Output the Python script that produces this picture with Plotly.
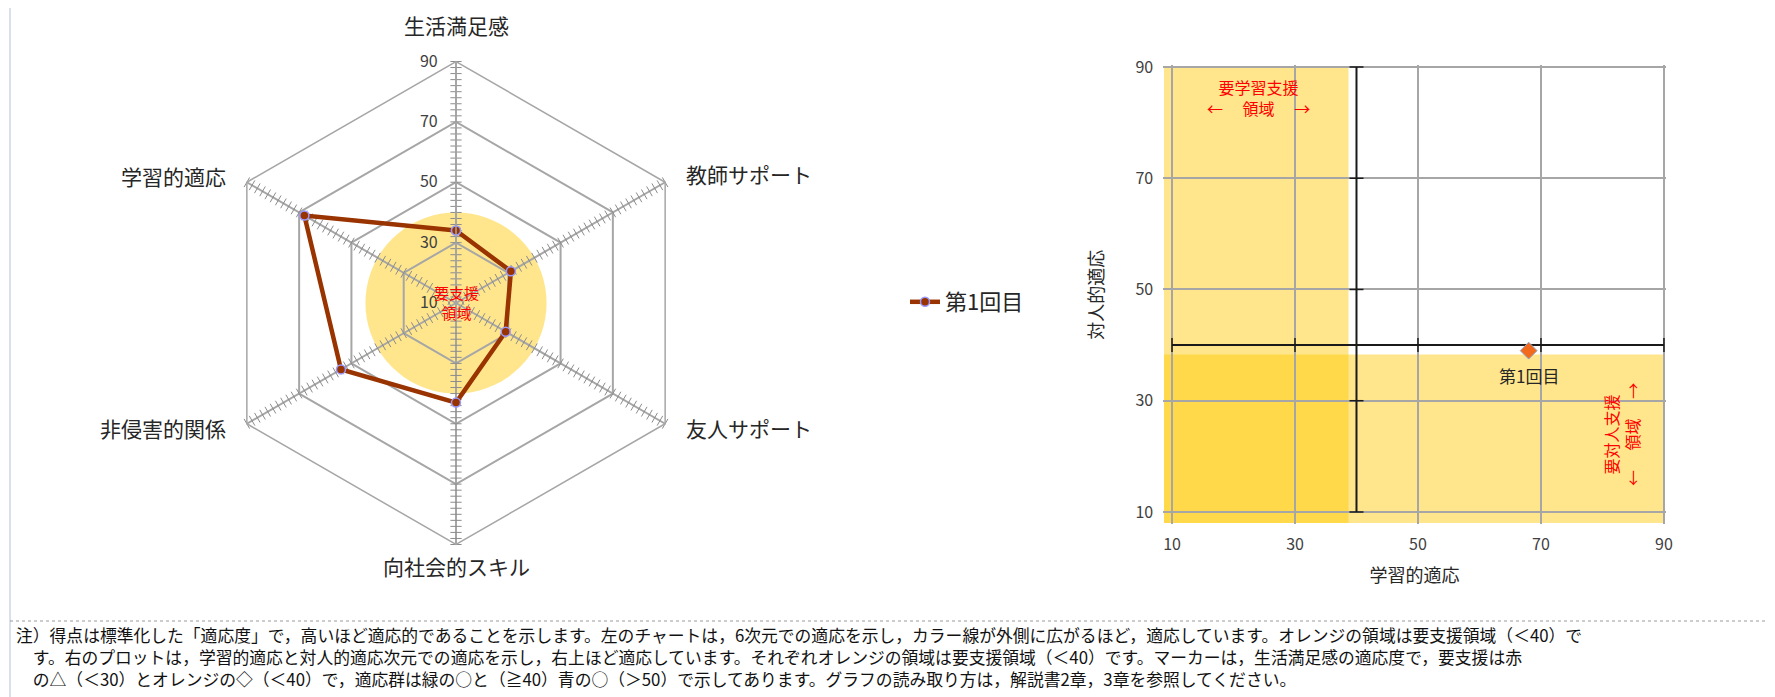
import plotly.graph_objects as go

# radar (6 dimensions), first session
radar_categories = ["生活満足感", "教師サポート", "友人サポート", "向社会的スキル", "非侵害的関係", "学習的適応"]
radar_values = [34, 31, 29, 43, 54, 68]
session_name = "第1回目"

# scatter: learning adaptation vs interpersonal adaptation
learning_x = [68]
interpersonal_y = [39]

support_cut = 40
grid_vals = [10, 30, 50, 70, 90]

note_lines = [
    "注）得点は標準化した「適応度」で，高いほど適応的であることを示します。左のチャートは，6次元での適応を示し，カラー線が外側に広がるほど，適応しています。オレンジの領域は要支援領域（＜40）で",
    "　す。右のプロットは，学習的適応と対人的適応次元での適応を示し，右上ほど適応しています。それぞれオレンジの領域は要支援領域（＜40）です。マーカーは，生活満足感の適応度で，要支援は赤",
    "　の△（＜30）とオレンジの◇（＜40）で，適応群は緑の○と（≧40）青の○（＞50）で示してあります。グラフの読み取り方は，解説書2章，3章を参照してください。",
]

FONT = "Noto Sans CJK JP"
W, H = 1775, 697
OFF = 8  # page body margin
GRID = "#A6A6A6"
LIGHT_Y = "#FFE68C"
DARK_Y = "#FFD94A"


def px(x):
    return (x - OFF) / W


def py(y):
    return 1 - (y - OFF) / H


fig = go.Figure()

# yellow "needs support" circle, drawn in an underlying polar
circle_theta = list(range(0, 361, 5))
fig.add_trace(go.Scatterpolar(r=[support_cut] * len(circle_theta), theta=circle_theta,
                              mode="lines", fill="toself", fillcolor=LIGHT_Y,
                              line=dict(width=0, color=LIGHT_Y), subplot="polar",
                              showlegend=False, hoverinfo="skip"))

# minor ticks on each spoke
tick_r = list(range(12, 91, 2))
for i, cat in enumerate(radar_categories):
    fig.add_trace(go.Scatterpolar(r=tick_r, theta=[cat] * len(tick_r), mode="markers",
                                  marker=dict(symbol="line-ew", size=8, angle=i * 60,
                                              line=dict(color="#8C8C8C", width=1)),
                                  subplot="polar2", showlegend=False, hoverinfo="skip"))

fig.add_trace(go.Scatterpolar(r=radar_values + radar_values[:1],
                              theta=radar_categories + radar_categories[:1],
                              mode="lines+markers", name=session_name, subplot="polar2",
                              line=dict(color="#993300", width=4.5),
                              marker=dict(size=9, color="#993300", line=dict(color="#9999FF", width=1.5))))

# scatter plot axes crossing at 40
fig.add_trace(go.Scatter(x=grid_vals, y=[support_cut] * len(grid_vals), mode="lines+markers",
                         line=dict(color="#1A1A1A", width=2),
                         marker=dict(symbol="line-ns", size=10, line=dict(color="#1A1A1A", width=1.5)),
                         showlegend=False, hoverinfo="skip"))
fig.add_trace(go.Scatter(x=[support_cut] * len(grid_vals), y=grid_vals, mode="lines+markers",
                         line=dict(color="#1A1A1A", width=2),
                         marker=dict(symbol="line-ew", size=10, line=dict(color="#1A1A1A", width=1.5)),
                         showlegend=False, hoverinfo="skip"))
fig.add_trace(go.Scatter(x=learning_x, y=interpersonal_y, mode="markers", name=session_name,
                         marker=dict(symbol="diamond", size=13, color="#F26B1D",
                                     line=dict(color="#8FA9D0", width=1)),
                         showlegend=False))

polar_dom = dict(x=[px(456 - 241.5), px(456 + 241.5)], y=[py(303 + 241.5), py(303 - 241.5)])
fig.update_layout(
    width=W, height=H,
    margin=dict(l=0, r=0, t=0, b=0),
    paper_bgcolor="white", plot_bgcolor="white",
    font=dict(family=FONT, color="#262626"),
    polar=dict(domain=polar_dom, bgcolor="white",
               radialaxis=dict(range=[10, 90], visible=False),
               angularaxis=dict(visible=False, rotation=90, direction="clockwise")),
    polar2=dict(domain=polar_dom, bgcolor="rgba(0,0,0,0)", gridshape="linear",
                radialaxis=dict(range=[10, 90], tickvals=grid_vals, angle=90, tickangle=90,
                                side="counterclockwise", showline=True, linecolor=GRID,
                                linewidth=1.5, gridcolor=GRID, gridwidth=1.5,
                                ticks="outside", ticklen=12, tickcolor="rgba(0,0,0,0)",
                                tickfont=dict(size=16, color="#404040")),
                angularaxis=dict(rotation=90, direction="clockwise", showline=True,
                                 linecolor=GRID, linewidth=1.5, gridcolor=GRID, gridwidth=1.5,
                                 ticks="", showticklabels=False)),
    xaxis=dict(domain=[px(1163.4), px(1665.8)], range=[8.6, 90.3], tickvals=grid_vals,
               showgrid=True, gridcolor=GRID, gridwidth=1.5, zeroline=False,
               ticks="outside", ticklen=6, tickcolor="rgba(0,0,0,0)",
               tickfont=dict(size=16, color="#404040"), automargin=False,
               title=dict(text="学習的適応", font=dict(size=18), standoff=14)),
    yaxis=dict(domain=[py(524.2), py(65.3)], range=[7.8, 90.3], tickvals=grid_vals,
               showgrid=True, gridcolor=GRID, gridwidth=1.5, zeroline=False,
               ticks="outside", ticklen=6, tickcolor="rgba(0,0,0,0)",
               tickfont=dict(size=16, color="#404040"), automargin=False,
               title=dict(text="対人的適応", font=dict(size=18), standoff=27)),
    legend=dict(x=px(905), y=py(302), xanchor="left", yanchor="middle",
                font=dict(size=22, color="#262626"), bgcolor="rgba(0,0,0,0)"),
)

# radar category labels placed around the hexagon
label_pos = [(456, 25, "center"), (684, 174, "left"), (684, 428, "left"),
             (456, 566, "center"), (228, 428, "right"), (228, 176, "right")]
for cat, (lx, ly, anchor) in zip(radar_categories, label_pos):
    fig.add_annotation(x=px(lx), y=py(ly), xref="paper", yref="paper", showarrow=False,
                       xanchor=anchor, yanchor="middle", text=cat,
                       font=dict(size=21, color="#262626"))

# support regions in the scatter
fig.add_shape(type="rect", xref="x", yref="y", x0=8.7, x1=38.7, y0=8, y1=90,
              fillcolor=LIGHT_Y, line_width=0, layer="below")
fig.add_shape(type="rect", xref="x", yref="y", x0=8.7, x1=90, y0=8, y1=38.3,
              fillcolor=LIGHT_Y, line_width=0, layer="below")
fig.add_shape(type="rect", xref="x", yref="y", x0=8.7, x1=38.7, y0=8, y1=38.3,
              fillcolor=DARK_Y, line_width=0, layer="below")

# page decorations: left rule and dotted separator above the note
fig.add_shape(type="line", xref="paper", yref="paper", x0=px(10), x1=px(10), y0=0, y1=1,
              line=dict(color="#B4C3D6", width=1))
fig.add_shape(type="line", xref="paper", yref="paper", x0=px(10), x1=1, y0=py(621), y1=py(621),
              line=dict(color="#9A9A9A", width=1, dash="dot"))

red = dict(family=FONT, size=16, color="#FF0000")
fig.add_annotation(x=px(456), y=py(302), xref="paper", yref="paper", showarrow=False,
                   xanchor="center", yanchor="middle",
                   text="要支援<br>領域", font=dict(family=FONT, size=15, color="#FF0000"))
fig.add_annotation(x=24, y=84.5, xref="x", yref="y", showarrow=False,
                   text="要学習支援<br>←　 領域 　→", font=red)
fig.add_annotation(x=83, y=24, xref="x", yref="y", showarrow=False, textangle=-90,
                   text="要対人支援<br>←　 領域 　→", font=red)
fig.add_annotation(x=learning_x[0], y=interpersonal_y[0], xref="x", yref="y", showarrow=False,
                   yshift=-25, text=session_name, font=dict(size=17, color="#262626"))

fig.add_annotation(x=px(14), y=py(657), xref="paper", yref="paper", showarrow=False,
                   xanchor="left", yanchor="middle", align="left", text="<br>".join(note_lines),
                   font=dict(size=16.8, color="#111111"))

fig.write_html("out.html")
